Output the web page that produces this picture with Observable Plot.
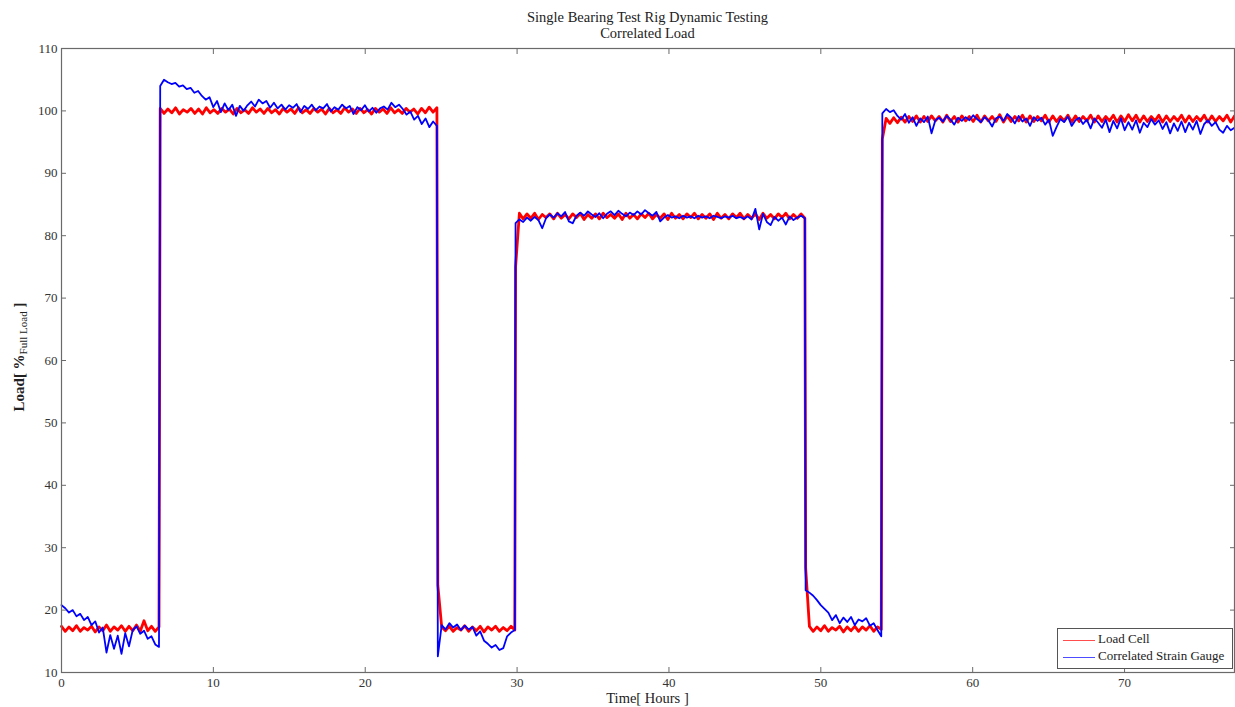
<!DOCTYPE html>
<html>
<head>
<meta charset="utf-8">
<script src="https://cdn.jsdelivr.net/npm/d3@7"></script>
<script src="https://cdn.jsdelivr.net/npm/@observablehq/plot@0.6"></script>
<style>
  body { margin: 0; background: #fff; }
  #wrap { position: relative; width: 1235px; height: 707px; font-family: 'Liberation Serif', 'Times New Roman', serif; color: #222; }
  .title { position: absolute; left: 61px; width: 1173px; top: 9px; text-align: center; font-size: 14.5px; line-height: 16px; }
  .xlabel { position: absolute; left: 61px; width: 1173px; top: 690px; text-align: center; font-size: 14.5px; line-height: 16px; }
  .legend { position: absolute; left: 1057px; top: 628px; width: 174px; height: 39px; border: 1px solid #555; background: #fff; font-size: 13px; }
  .legend .row { position: absolute; left: 5px; height: 16px; line-height: 16px; white-space: nowrap; }
  .legend .sw { display: inline-block; width: 32px; height: 0; border-top: 1px solid; vertical-align: middle; margin-right: 3px; }
</style>
</head>
<body>
<div id="wrap">
  <div class="title">Single Bearing Test Rig Dynamic Testing<br>Correlated Load</div>
  <div class="xlabel">Time[ Hours ]</div>
</div>
<script>
// ---- data ----
const seriesNames = ["Load Cell", "Correlated Strain Gauge"];
const xTicks = [0, 10, 20, 30, 40, 50, 60, 70];
const yTicks = [10, 20, 30, 40, 50, 60, 70, 80, 90, 100, 110];

// plateau segments (hours)
const segStart = [0, 6.5, 24.78, 29.9, 49.0, 54.05];
const segEnd   = [6.42, 24.72, 29.85, 48.95, 53.98, 77.24];

// Load Cell readings per segment (% full load)
const cellSeg1 = [17.4,16.6,17.3,16.7,17.5,16.6,17.2,16.8,17.4,16.5,17.3,16.7,17.6,16.6,17.3,16.8,17.5,16.6,17.4,16.7,17.6,16.6,18.3,16.7,17.4,16.6,17.3];
const cellSeg2 = [100.4,99.6,100.3,99.7,100.5,99.5,100.2,99.8,100.4,99.6,
  100.3,99.5,100.5,99.7,100.2,99.6,100.4,99.8,100.3,99.5,
  100.4,99.7,100.2,99.6,100.5,99.8,100.3,99.6,100.4,99.7,
  100.2,99.5,100.4,99.8,100.3,99.6,100.5,99.7,100.2,99.6,
  100.4,99.8,100.3,99.5,100.4,99.7,100.2,99.6,100.5,99.8,
  100.3,99.6,100.4,99.7,100.2,99.5,100.4,99.8,100.3,99.6,
  100.5,99.7,100.2,99.6,100.4,99.8,100.3,99.5,100.4,99.7,
  100.6,99.8,100.5];
const cellSeg3 = [24.0,17.3,16.7,17.4,16.6,17.2,16.8,17.5,16.6,17.3,16.7,17.4,16.5,17.3,16.8,17.4,16.6,17.2,16.7,17.4,16.8];
const cellSeg4 = [75.0,
  83.6,82.7,83.5,82.8,83.6,82.6,83.4,82.9,83.5,82.7,
  83.6,82.8,83.4,82.7,83.5,82.9,83.6,82.6,83.4,82.8,
  83.5,82.7,83.6,82.9,83.4,82.8,83.5,82.6,83.6,82.8,
  83.4,82.7,83.5,82.9,83.6,82.7,83.4,82.8,83.5,82.6,
  83.6,82.8,83.4,82.7,83.5,82.9,83.6,82.7,83.4,82.8,
  83.5,82.6,83.6,82.8,83.4,82.7,83.5,82.9,83.6,82.7,
  83.4,82.8,83.5,82.6,83.6,82.8,83.4,82.7,83.5,82.9,
  83.6,82.7,83.4,82.8,83.5,82.8];
const cellSeg5 = [26.8,17.4,16.6,17.3,16.7,17.5,16.6,17.2,16.8,17.4,16.5,17.3,16.7,17.4,16.6,17.3,16.8,17.5,16.6,17.3,16.9];
const cellSeg6 = [95.5,
  98.8,98.0,98.9,98.1,99.0,98.2,99.1,98.3,99.2,98.2,
  99.1,98.3,99.2,98.4,99.1,98.2,99.3,98.3,99.1,98.2,
  99.2,98.4,99.1,98.3,99.3,98.2,99.2,98.4,99.1,98.3,
  99.4,98.2,99.2,98.3,99.1,98.4,99.3,98.2,99.2,98.3,
  99.1,98.4,99.3,98.2,99.2,98.3,99.1,98.4,99.3,98.2,
  99.2,98.3,99.1,98.4,99.3,98.2,99.2,98.3,99.1,98.4,
  99.3,98.2,99.2,98.3,99.4,98.4,99.3,98.2,99.2,98.3,
  99.1,98.4,99.3,98.2,99.2,98.3,99.1,98.4,99.3,98.2,
  99.2,98.3,99.1,98.4,99.3,98.2,99.2,98.3,99.1,98.4,
  99.3,98.2,99.2];

// Correlated Strain Gauge readings per segment (% full load)
const gaugeSeg1 = [20.8,20.3,19.6,20.0,19.0,19.4,18.4,18.9,17.6,18.2,16.4,17.2,13.2,16.0,13.8,15.9,13.0,16.3,14.2,16.8,17.4,16.2,16.7,15.4,15.8,14.5,14.1];
const gaugeSeg2 = [104.0,105.0,104.6,104.3,104.5,103.9,104.1,103.5,103.7,102.9,
  103.2,102.4,101.8,102.2,100.6,101.6,99.8,101.2,100.1,101.0,
  99.2,100.8,100.0,100.9,101.5,100.7,101.8,101.2,101.6,100.5,
  101.3,100.4,101.0,100.2,100.9,100.5,101.1,99.8,100.8,100.3,
  101.0,100.1,100.7,100.4,101.1,99.9,100.6,100.2,101.0,100.4,
  100.8,99.5,100.6,100.1,100.9,99.9,100.5,99.7,100.4,100.7,
  100.2,101.3,100.6,101.0,100.3,99.4,99.9,98.6,99.2,97.9,
  98.8,97.4,98.3,97.6];
const gaugeSeg3 = [12.6,17.6,16.9,17.9,17.2,17.7,16.8,17.5,16.9,17.3,15.9,16.6,15.1,14.6,14.0,14.4,13.6,13.9,15.8,16.4,16.8];
const gaugeSeg4 = [82.0,82.6,82.2,82.9,82.4,83.0,82.5,81.2,82.8,83.4,
  82.9,83.6,83.1,83.8,82.3,82.0,83.2,83.7,83.2,83.9,
  83.4,83.0,83.6,82.8,83.5,83.9,83.3,84.0,83.5,83.1,
  83.7,83.3,83.9,83.4,84.1,83.6,83.2,83.8,82.3,82.9,
  83.3,82.9,83.1,82.8,83.2,82.9,83.1,82.8,83.2,82.9,
  83.1,82.8,83.2,83.0,82.8,83.1,82.9,83.2,82.8,83.0,
  82.7,83.1,82.6,84.3,81.0,83.5,82.2,81.7,83.0,82.4,
  82.9,81.8,83.1,82.5,82.9,83.2,82.8];
const gaugeSeg5 = [23.2,22.8,22.3,21.6,20.8,20.2,19.6,18.4,19.2,17.9,18.8,18.1,18.9,17.6,18.5,18.2,18.7,17.5,17.9,16.8,15.8];
const gaugeSeg6 = [99.6,100.3,99.8,100.1,99.2,98.6,99.5,98.1,99.0,97.6,
  98.8,98.2,99.1,96.4,98.5,98.9,98.3,99.2,98.6,97.8,
  98.9,98.4,99.0,98.5,99.3,98.7,98.2,99.0,98.5,97.5,
  98.8,99.1,98.4,99.5,98.9,98.0,99.2,98.3,98.8,97.6,
  99.0,98.4,98.9,97.8,98.6,96.0,97.4,98.7,98.2,99.1,
  97.6,98.5,98.9,97.9,98.6,97.2,98.8,98.1,97.3,98.6,
  96.6,98.4,97.2,98.8,96.9,98.2,97.0,98.5,96.5,98.1,
  97.4,98.7,97.8,98.5,97.1,98.2,96.4,98.0,96.8,98.3,
  96.6,98.1,97.0,98.4,96.3,97.9,98.5,97.6,98.2,97.0,
  96.5,97.6,96.9,97.3];

// ---- build rows ----
function build(series, segs) {
  const rows = [];
  segs.forEach((vals, k) => {
    const n = vals.length;
    vals.forEach((v, i) => rows.push({series, hour: segStart[k] + (segEnd[k] - segStart[k]) * i / (n - 1), load: v}));
  });
  return rows;
}
const cellRows = build(seriesNames[0], [cellSeg1, cellSeg2, cellSeg3, cellSeg4, cellSeg5, cellSeg6]);
const gaugeRows = build(seriesNames[1], [gaugeSeg1, gaugeSeg2, gaugeSeg3, gaugeSeg4, gaugeSeg5, gaugeSeg6]);

const axisColor = "#6a6a6a";
const chart = Plot.plot({
  width: 1235,
  height: 707,
  marginLeft: 61,
  marginRight: 1,
  marginTop: 48,
  marginBottom: 35,
  style: {fontFamily: "'Liberation Serif', 'Times New Roman', serif", fontSize: "13px", color: "#333", background: "transparent"},
  x: {domain: [0, 77.24]},
  y: {domain: [10, 110]},
  marks: [
    Plot.lineY(cellRows, {x: "hour", y: "load", stroke: "#ff0000", strokeWidth: 2.8, strokeLinejoin: "round"}),
    Plot.lineY(gaugeRows, {x: "hour", y: "load", stroke: "#0000ff", strokeWidth: 1.8, strokeLinejoin: "round"}),
    Plot.frame({stroke: axisColor, strokeWidth: 1.2}),
    Plot.axisX(xTicks, {anchor: "bottom", tickSize: 0, tickPadding: 5, label: null, fill: "#333"}),
    Plot.axisX(xTicks, {anchor: "bottom", tickSize: -5, fill: "none", label: null, stroke: axisColor}),
    Plot.axisX(xTicks, {anchor: "top", tickSize: -5, fill: "none", label: null, stroke: axisColor}),
    Plot.axisY(yTicks, {anchor: "left", tickSize: 0, tickPadding: 4, label: null, fill: "#333"}),
    Plot.axisY(yTicks, {anchor: "left", tickSize: -5, fill: "none", label: null, stroke: axisColor}),
    Plot.axisY(yTicks, {anchor: "right", tickSize: -5, fill: "none", label: null, stroke: axisColor})
  ]
});
chart.style.position = "absolute";
chart.style.left = "0px";
chart.style.top = "0px";
const wrap = document.getElementById("wrap");
wrap.insertBefore(chart, wrap.firstChild);

// y axis label with subscript
const ylab = d3.select(chart).append("text")
  .attr("transform", "translate(19,357) rotate(-90)")
  .attr("text-anchor", "middle")
  .attr("dominant-baseline", "central")
  .attr("fill", "#222")
  .style("font-size", "15px")
  .style("font-family", "'Liberation Serif', serif");
ylab.append("tspan").style("font-weight", "bold").text("Load[ %");
ylab.append("tspan").attr("baseline-shift", "-4").style("font-size", "11px").text("Full Load");
ylab.append("tspan").style("font-weight", "bold").text(" ]");

// legend
const legend = document.createElement("div");
legend.className = "legend";
const colors = ["#ff4d4d", "#4d4dff"];
seriesNames.forEach((name, i) => {
  const row = document.createElement("div");
  row.className = "row";
  row.style.top = (2 + i * 17) + "px";
  const sw = document.createElement("span");
  sw.className = "sw";
  sw.style.borderTopColor = colors[i];
  row.appendChild(sw);
  row.appendChild(document.createTextNode(name));
  legend.appendChild(row);
});
wrap.appendChild(legend);
</script>
</body>
</html>
